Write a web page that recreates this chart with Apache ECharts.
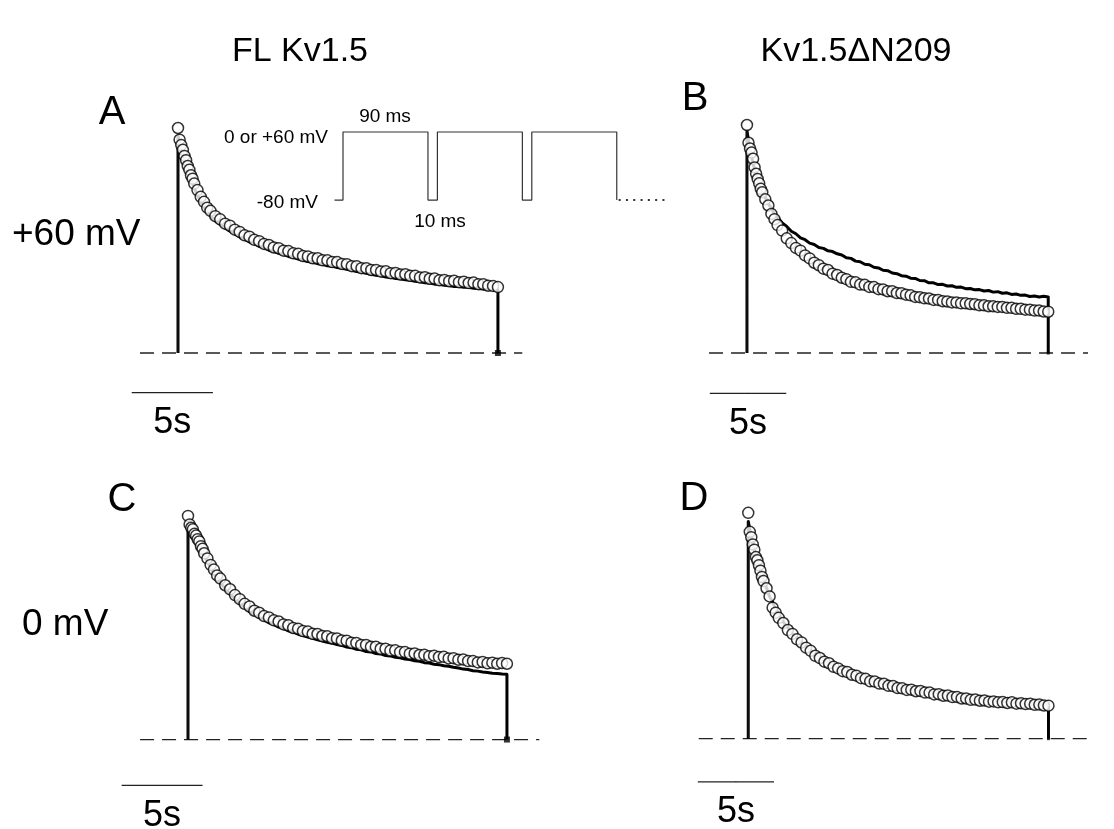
<!DOCTYPE html>
<html>
<head>
<meta charset="utf-8">
<title>Kv1.5 inactivation during pulse trains</title>
<script src="https://cdn.jsdelivr.net/npm/echarts@6/dist/echarts.min.js"></script>
<style>
  html, body { margin: 0; padding: 0; background: #fff; }
  #chart { width: 1114px; height: 829px; }
</style>
</head>
<body>
<div id="chart"></div>
<script>
// Time of each sample within the 20 s pulse train (s)
const T = [0,0.1,0.2,0.3,0.4,0.5,0.6,0.7,0.8,0.9,1.0,1.2,1.4,1.6,1.8,2.0,
  2.3,2.6,2.9,3.2,3.5,3.8,4.1,4.4,4.7,5.0,5.3,5.6,5.9,6.2,6.5,6.8,7.1,7.4,7.7,8.0,
  8.3,8.6,8.9,9.2,9.5,9.8,10.1,10.4,10.7,11.0,11.3,11.6,11.9,12.2,12.5,12.8,13.1,13.4,13.7,14.0,
  14.3,14.6,14.9,15.2,15.5,15.8,16.1,16.4,16.7,17.0,17.3,17.6,17.9,18.2,18.5,18.8,19.1,19.4,19.7];

// Current, per mille of the first-pulse peak. *_PULSE = peak current of each pulse (open circles),
// *_TRACE = current recorded during a single long depolarization (solid trace).
const A_PULSE = [1000,948,924,903,876,857,831,814,790,775,753,724,694,672,646,632,
  608,594,575,566,548,538,523,517,503,497,485,480,469,466,455,453,443,441,431,429,
  421,421,412,412,404,404,396,395,386,386,377,377,369,369,362,363,355,356,349,350,
  343,343,336,337,330,331,323,325,319,321,315,317,311,313,306,306,299,298,293];
const A_TRACE = [965,936,906,884,858,837,814,792,772,752,734,700,674,648,628,608,
  588,571,556,541,530,515,506,493,486,474,468,457,452,443,438,429,425,418,412,407,
  403,397,394,388,386,380,377,372,368,362,359,354,350,345,343,338,336,331,330,325,
  323,319,317,312,311,306,305,301,300,296,296,292,292,288,287,284,283,281,280];

const B_PULSE = [1000,922,897,879,852,814,786,763,744,720,705,674,647,610,587,561,
  537,503,482,461,449,428,415,396,385,370,364,348,342,330,324,312,310,300,299,290,
  289,280,279,271,271,263,262,256,253,246,245,240,239,233,233,227,226,222,222,218,
  218,215,214,209,209,205,205,202,202,198,198,194,194,190,190,186,186,182,181];
const B_TRACE = [975,932,893,864,830,807,778,760,736,722,702,682,653,637,608,594,
  571,555,534,523,505,497,482,476,463,459,448,445,435,430,418,415,403,400,389,387,
  376,373,363,361,351,348,339,337,328,327,318,317,308,308,300,301,294,295,288,289,
  282,283,277,278,272,274,267,269,262,264,257,259,253,254,248,250,246,249,246];

const C_PULSE = [1000,962,947,940,920,912,896,886,865,853,833,810,781,760,734,720,
  690,672,646,628,607,595,576,567,552,546,533,528,515,511,499,496,485,483,473,472,
  463,462,453,452,443,442,433,432,423,423,415,415,406,406,398,399,391,391,384,385,
  378,379,373,375,369,370,363,364,357,358,351,351,345,347,341,344,339,342,339];
const C_TRACE = [960,952,940,925,912,898,886,870,858,838,826,795,770,742,722,700,
  676,650,630,606,592,572,560,544,536,522,515,503,497,486,480,471,465,458,453,446,
  441,435,431,425,421,414,411,404,401,394,392,385,383,376,374,368,366,360,358,352,
  350,344,342,337,335,330,328,323,320,315,313,308,306,302,300,297,295,293,292];

const D_PULSE = [1000,916,892,860,837,804,790,768,744,716,698,666,630,580,558,535,
  512,481,464,440,426,403,389,367,357,341,334,318,311,299,295,283,279,268,265,254,
  253,244,243,234,233,224,223,216,217,210,211,204,204,196,197,190,191,184,185,178,
  178,172,173,168,169,164,165,161,162,158,161,155,157,153,155,150,151,147,146];
const D_TRACE = [962,927,890,867,835,814,785,767,740,724,700,667,629,605,572,553,
  516,493,464,448,424,411,389,378,358,350,333,327,312,307,294,290,278,276,264,263,
  252,252,242,242,233,233,225,225,217,217,210,210,203,204,197,198,191,192,185,186,
  179,181,175,177,171,174,167,170,163,166,159,162,156,159,152,155,151,153,150];

// Pulse protocol: 90 ms steps separated by 10 ms returns to the holding potential
const PROTOCOL_MS = [-9, 0, 0, 90, 90, 100, 100, 190, 190, 200, 200, 290, 290];
const PROTOCOL_MV = [-80, -80, 60, 60, -80, -80, 60, 60, -80, -80, 60, 60, -80];
const PROTOCOL_TAIL_MS = [292, 345];

const COLUMN_TITLES = ['FL Kv1.5', 'Kv1.5\u0394N209'];
const ROW_LABELS = ['+60 mV', '0 mV'];
const SCALE_BAR_S = 5;

const FONT = '"Liberation Sans", Arial, Helvetica, sans-serif';

// Panel geometry: x0/y0 = pixel position of (t = 0, I = 0); pxs = pixels per second; amp = pixels per full peak
const panels = [
  { key: 'A', pulse: A_PULSE, trace: A_TRACE, x0: 178, y0: 353, pxs: 16.24, amp: 225,
    base: [-2.34, 21.2], bar: [-2.85, -176], endMark: 6 },
  { key: 'B', pulse: B_PULSE, trace: B_TRACE, x0: 752, y0: 353, pxs: 16.3, amp: 228,
    base: [-2.48, 22.3], bar: [-2.43, -177], endMark: 3 },
  { key: 'C', pulse: C_PULSE, trace: C_TRACE, x0: 188, y0: 740, pxs: 16.19, amp: 224,
    base: [-2.96, 21.7], bar: [-4.1, -205], endMark: 6 },
  { key: 'D', pulse: D_PULSE, trace: D_TRACE, x0: 752, y0: 740, pxs: 15.99, amp: 227,
    base: [-3.25, 22.7], bar: [-3.31, -191], endMark: 3 }
];

const X_MIN = -5, X_MAX = 24, Y_MIN = -400, Y_MAX = 1150;

const grids = [], xAxes = [], yAxes = [], series = [];

panels.forEach((p, i) => {
  const kPx = p.amp / 1000;
  grids.push({
    left: p.x0 + X_MIN * p.pxs,
    width: (X_MAX - X_MIN) * p.pxs,
    top: p.y0 - Y_MAX * kPx,
    height: (Y_MAX - Y_MIN) * kPx
  });
  xAxes.push({ gridIndex: i, type: 'value', min: X_MIN, max: X_MAX, show: false });
  yAxes.push({ gridIndex: i, type: 'value', min: Y_MIN, max: Y_MAX, show: false });

  const tEnd = T[T.length - 1];

  // zero-current reference
  series.push({
    type: 'line', xAxisIndex: i, yAxisIndex: i, symbol: 'none', silent: true, z: 1,
    data: [[p.base[0], 0], [p.base[1], 0]],
    lineStyle: { color: '#222', width: 1.3, type: [14, 8] }
  });

  // continuous current trace, stepping from and back to zero
  const traceData = [[T[0], 0]].concat(T.map((t, j) => [t, p.trace[j]])).concat([[tEnd, 0]]);
  series.push({
    type: 'line', xAxisIndex: i, yAxisIndex: i, symbol: 'none', silent: true, z: 2,
    data: traceData,
    lineStyle: { color: '#000', width: 3, join: 'round' }
  });
  // thin vertical step at the start of the trace
  series.push({
    type: 'line', xAxisIndex: i, yAxisIndex: i, symbol: 'none', silent: true, z: 2,
    data: [[T[0], 0], [T[0], p.trace[0]]],
    lineStyle: { color: '#111', width: 1.5 }
  });

  // peak current of each pulse
  series.push({
    type: 'scatter', xAxisIndex: i, yAxisIndex: i, silent: true, z: 3,
    symbol: 'circle', symbolSize: 11,
    data: T.map((t, j) => [t, p.pulse[j]]),
    itemStyle: { color: '#fff', borderColor: '#000', borderWidth: 1.5 }
  });

  // end-of-trace marker on the zero line
  series.push({
    type: 'scatter', xAxisIndex: i, yAxisIndex: i, silent: true, z: 4,
    symbol: 'rect', symbolSize: p.endMark,
    data: [[tEnd, 0]],
    itemStyle: { color: '#000' }
  });

  // time scale bar
  series.push({
    type: 'line', xAxisIndex: i, yAxisIndex: i, symbol: 'none', silent: true, z: 2,
    data: [[p.bar[0], p.bar[1]], [p.bar[0] + SCALE_BAR_S, p.bar[1]]],
    lineStyle: { color: '#222', width: 1.3 }
  });
  series.push({
    type: 'scatter', xAxisIndex: i, yAxisIndex: i, silent: true, z: 2,
    symbolSize: 1, itemStyle: { color: '#222' },
    data: [[p.bar[0] + SCALE_BAR_S / 2, p.bar[1]]],
    label: {
      show: true, position: 'bottom', distance: 12, opacity: 1,
      textBorderWidth: 0, textShadowBlur: 0,
      formatter: SCALE_BAR_S + 's', color: '#000', fontSize: 36, fontFamily: FONT
    }
  });
});

// inset: stimulation protocol (ms, mV)
const insetIdx = panels.length;
const msPx = 0.944, mvPx = 0.486;
grids.push({
  left: 343 - 20 * msPx, width: 380 * msPx,
  top: 132 - 20 * mvPx, height: 180 * mvPx
});
xAxes.push({ gridIndex: insetIdx, type: 'value', min: -20, max: 360, show: false });
yAxes.push({ gridIndex: insetIdx, type: 'value', min: -100, max: 80, show: false });
series.push({
  type: 'line', xAxisIndex: insetIdx, yAxisIndex: insetIdx, symbol: 'none', silent: true,
  data: PROTOCOL_MS.map((t, j) => [t, PROTOCOL_MV[j]]),
  lineStyle: { color: '#333', width: 1.2 }
});
series.push({
  type: 'line', xAxisIndex: insetIdx, yAxisIndex: insetIdx, symbol: 'none', silent: true,
  data: PROTOCOL_TAIL_MS.map(t => [t, -80]),
  lineStyle: { color: '#333', width: 2, type: [2, 5.3] }
});

function txt(text, x, y, size, align) {
  return {
    type: 'text', x: x, y: y, silent: true,
    style: {
      text: text, fill: '#000', font: size + 'px ' + FONT,
      textAlign: align || 'center', textVerticalAlign: 'middle'
    }
  };
}

const graphics = [
  txt(COLUMN_TITLES[0], 300, 52, 34),
  txt(COLUMN_TITLES[1], 856, 52, 34),
  txt(ROW_LABELS[0], 12, 235, 37, 'left'),
  txt(ROW_LABELS[1], 22, 625, 37, 'left'),
  txt('A', 112, 113, 40),
  txt('B', 695, 99, 40),
  txt('C', 122, 500, 40),
  txt('D', 694, 499, 40),
  txt('90 ms', 385, 117, 19),
  txt('10 ms', 440, 222, 19),
  txt('0 or +60 mV', 328, 138, 19, 'right'),
  txt('-80 mV', 318, 203, 19, 'right')
];

const chart = echarts.init(document.getElementById('chart'), null, { renderer: 'canvas' });
chart.setOption({
  animation: false,
  backgroundColor: '#fff',
  grid: grids,
  xAxis: xAxes,
  yAxis: yAxes,
  series: series,
  graphic: graphics
});
</script>
</body>
</html>
